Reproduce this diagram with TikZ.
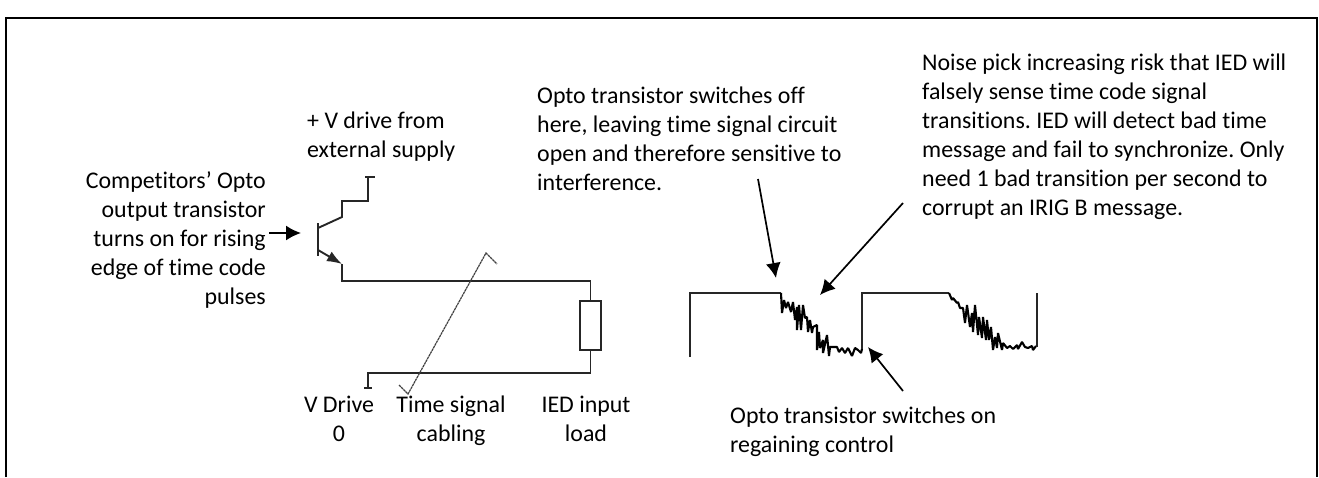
\documentclass[tikz,border=0pt]{standalone}
\usepackage{fontspec}
\usepackage{tikz}
\usetikzlibrary{arrows.meta}
\setmainfont[Ligatures=NoCommon]{Carlito}

\begin{document}
\frenchspacing
\begin{tikzpicture}[x=1pt,y=-1pt,
    lbl/.style={inner sep=0pt,font=\fontsize{23.9}{29}\selectfont},
    wire/.style={line width=1.9pt,line join=miter,black!85},
    noisy/.style={line width=2.1pt,line join=bevel,black},
    callout/.style={line width=1.7pt,-{Latex[length=15pt,width=15pt]}}]
    \useasboundingbox (0,0) rectangle (1319,477);
    \draw[line width=2pt] (6,477) -- (6,18) -- (1317,18) -- (1317,477);
    % labels
    \node[lbl,align=left,anchor=north west] (supply) at (307,112) {+ V drive from\\external supply};
    \node[lbl,align=right,anchor=north east] (comp) at (266,171) {Competitors’ Opto\\output transistor\\turns on for rising\\edge of time code\\pulses};
    \node[lbl,align=left,anchor=north west] (off) at (537,87) {Opto transistor switches off\\here, leaving time signal circuit\\open and therefore sensitive to\\interference.};
    \node[lbl,align=left,anchor=north west] (noise) at (922,54) {Noise pick increasing risk that IED will\\falsely sense time code signal\\transitions. IED will detect bad time\\message and fail to synchronize. Only\\need 1 bad transition per second to\\corrupt an IRIG B message.};
    \node[lbl,align=center,anchor=north] (vdrive) at (339,396) {V Drive\\0};
    \node[lbl,align=center,anchor=north] (cable) at (451,396) {Time signal\\cabling};
    \node[lbl,align=center,anchor=north] (iedload) at (586,396) {IED input\\load};
    \node[lbl,align=left,anchor=north west] (on) at (730,407) {Opto transistor switches on\\regaining control};
    % transistor and load
    \node[draw,wire,fill=white,minimum width=21pt,minimum height=49pt,inner sep=0pt] (load) at (590.5,325.5) {};
    \coordinate (base) at (301,233);
    \coordinate (coll) at (342,217);
    \coordinate (emit) at (342,264);
    \coordinate (vplus) at (368,177);
    \coordinate (vzero) at (368,388);
    \draw[wire] (318,223) -- (318,256);
    \draw[wire] (318,228) -- (coll) -- (342,201) -- (368,201) -- (vplus);
    \draw[wire] (365,177) -- (375,177);
    \draw[wire,-{Latex[length=15pt,width=11pt]}] (318,250) -- (emit);
    \draw[wire] (emit) |- (590.5,281) -- (load.north);
    \draw[wire] (load.south) -- (590.5,373) -| (vzero);
    \draw[wire] (364,388) -- (372,388);
    % cable
    \draw[line width=1.2pt,black!75,dash pattern=on 2.5pt off .6pt] (399,385) -- (408,394) -- (486,253) -- (497,264);
    % waveform
    \draw[wire] (690,357) -- (690,293) -- (781,293);
    \draw[noisy] (781,293) -- (782,313) -- (784,300) -- (786,308) -- (788,302) -- (791,312) -- (793,302) -- (795,320) -- (797,307) -- (797,330) -- (799,305) -- (801,330) -- (803,305) -- (805,318) -- (807,317) -- (808,332) -- (810,320) -- (812,333) -- (813,327) -- (817,325) -- (817,350) -- (819,332) -- (820,348) -- (823,340) -- (823,353) -- (827,335) -- (829,356) -- (830,347) -- (837,347) -- (839,352) -- (842,348) -- (845,353) -- (848,348) -- (852,356) -- (855,348) -- (858,350) -- (861,353) -- (862,349);
    \draw[wire] (862,349) -- (862,293) -- (949,293);
    \draw[noisy] (949,293) -- (952,300) -- (953,298) -- (957,303) -- (958,302) -- (960,308) -- (963,308) -- (965,323) -- (967,305) -- (970,327) -- (972,313) -- (973,332) -- (975,305) -- (978,335) -- (979,317) -- (982,338) -- (983,317) -- (986,340) -- (987,320) -- (989,340) -- (991,327) -- (993,350) -- (995,337) -- (997,348) -- (998,333) -- (1002,350) -- (1003,343) -- (1007,348) -- (1010,346) -- (1013,349) -- (1017,345) -- (1018,349) -- (1022,342) -- (1025,347) -- (1028,348) -- (1032,346) -- (1033,350) -- (1036,346);
    \draw[wire] (1036,346) -- (1037,346) -- (1037,293);
    % callouts
    \coordinate (offstart) at (758,179);
    \coordinate (offtip) at (776,278);
    \coordinate (noisestart) at (903,203);
    \coordinate (noisetip) at (820,295);
    \coordinate (onstart) at (903,391);
    \coordinate (ontip) at (868,347);
    \draw[callout] (269,233) -- (base);
    \draw[callout] (offstart) -- (offtip);
    \draw[callout] (noisestart) -- (noisetip);
    \draw[callout] (onstart) -- (ontip);
\end{tikzpicture}
\end{document}
